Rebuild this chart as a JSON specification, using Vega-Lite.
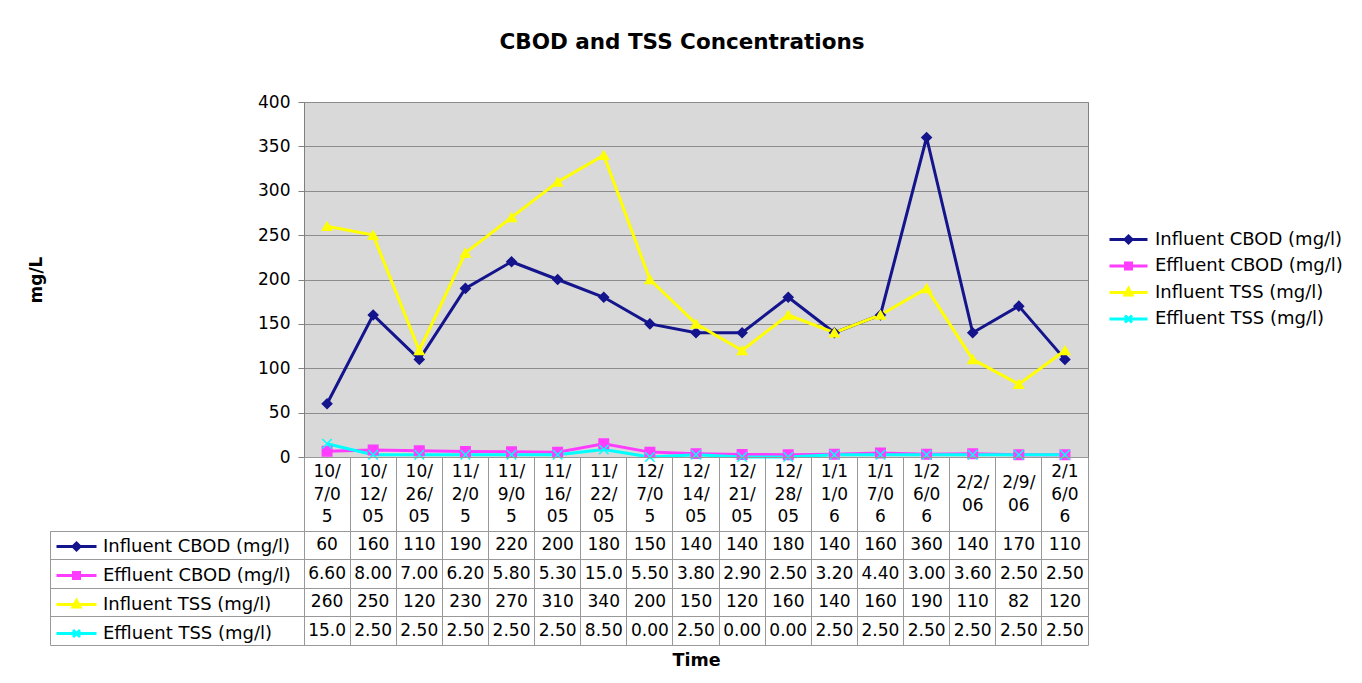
{
  "$schema": "https://vega.github.io/schema/vega-lite/v6.json",
  "background": "white",
  "padding": {"left": 27, "top": 31, "right": 5, "bottom": 5},
  "datasets": {
    "t": [
      {"Date": "10/7/05", "Label": "10/\n7/0\n5", "Influent CBOD (mg/l)": 60, "Effluent CBOD (mg/l)": 6.6, "Influent TSS (mg/l)": 260, "Effluent TSS (mg/l)": 15},
      {"Date": "10/12/05", "Label": "10/\n12/\n05", "Influent CBOD (mg/l)": 160, "Effluent CBOD (mg/l)": 8, "Influent TSS (mg/l)": 250, "Effluent TSS (mg/l)": 2.5},
      {"Date": "10/26/05", "Label": "10/\n26/\n05", "Influent CBOD (mg/l)": 110, "Effluent CBOD (mg/l)": 7, "Influent TSS (mg/l)": 120, "Effluent TSS (mg/l)": 2.5},
      {"Date": "11/2/05", "Label": "11/\n2/0\n5", "Influent CBOD (mg/l)": 190, "Effluent CBOD (mg/l)": 6.2, "Influent TSS (mg/l)": 230, "Effluent TSS (mg/l)": 2.5},
      {"Date": "11/9/05", "Label": "11/\n9/0\n5", "Influent CBOD (mg/l)": 220, "Effluent CBOD (mg/l)": 5.8, "Influent TSS (mg/l)": 270, "Effluent TSS (mg/l)": 2.5},
      {"Date": "11/16/05", "Label": "11/\n16/\n05", "Influent CBOD (mg/l)": 200, "Effluent CBOD (mg/l)": 5.3, "Influent TSS (mg/l)": 310, "Effluent TSS (mg/l)": 2.5},
      {"Date": "11/22/05", "Label": "11/\n22/\n05", "Influent CBOD (mg/l)": 180, "Effluent CBOD (mg/l)": 15, "Influent TSS (mg/l)": 340, "Effluent TSS (mg/l)": 8.5},
      {"Date": "12/7/05", "Label": "12/\n7/0\n5", "Influent CBOD (mg/l)": 150, "Effluent CBOD (mg/l)": 5.5, "Influent TSS (mg/l)": 200, "Effluent TSS (mg/l)": 0},
      {"Date": "12/14/05", "Label": "12/\n14/\n05", "Influent CBOD (mg/l)": 140, "Effluent CBOD (mg/l)": 3.8, "Influent TSS (mg/l)": 150, "Effluent TSS (mg/l)": 2.5},
      {"Date": "12/21/05", "Label": "12/\n21/\n05", "Influent CBOD (mg/l)": 140, "Effluent CBOD (mg/l)": 2.9, "Influent TSS (mg/l)": 120, "Effluent TSS (mg/l)": 0},
      {"Date": "12/28/05", "Label": "12/\n28/\n05", "Influent CBOD (mg/l)": 180, "Effluent CBOD (mg/l)": 2.5, "Influent TSS (mg/l)": 160, "Effluent TSS (mg/l)": 0},
      {"Date": "1/11/06", "Label": "1/1\n1/0\n6", "Influent CBOD (mg/l)": 140, "Effluent CBOD (mg/l)": 3.2, "Influent TSS (mg/l)": 140, "Effluent TSS (mg/l)": 2.5},
      {"Date": "1/17/06", "Label": "1/1\n7/0\n6", "Influent CBOD (mg/l)": 160, "Effluent CBOD (mg/l)": 4.4, "Influent TSS (mg/l)": 160, "Effluent TSS (mg/l)": 2.5},
      {"Date": "1/26/06", "Label": "1/2\n6/0\n6", "Influent CBOD (mg/l)": 360, "Effluent CBOD (mg/l)": 3, "Influent TSS (mg/l)": 190, "Effluent TSS (mg/l)": 2.5},
      {"Date": "2/2/06", "Label": "2/2/\n06", "Influent CBOD (mg/l)": 140, "Effluent CBOD (mg/l)": 3.6, "Influent TSS (mg/l)": 110, "Effluent TSS (mg/l)": 2.5},
      {"Date": "2/9/06", "Label": "2/9/\n06", "Influent CBOD (mg/l)": 170, "Effluent CBOD (mg/l)": 2.5, "Influent TSS (mg/l)": 82, "Effluent TSS (mg/l)": 2.5},
      {"Date": "2/16/06", "Label": "2/1\n6/0\n6", "Influent CBOD (mg/l)": 110, "Effluent CBOD (mg/l)": 2.5, "Influent TSS (mg/l)": 120, "Effluent TSS (mg/l)": 2.5}
    ]
  },
  "columns": 2,
  "spacing": 0,
  "bounds": "flush",
  "resolve": {"legend": {"color": "independent"}},
  "config": {
    "font": "DejaVu Sans",
    "view": {"stroke": "#999999"},
    "axis": {"labelColor": "black", "titleColor": "black"},
    "legend": {"labelColor": "black"},
    "title": {"color": "black"}
  },
  "concat": [
    {
      "width": 254, "height": 355,
      "view": {"stroke": null},
      "data": {"values": [{}]},
      "mark": {"type": "text", "text": ""}
    },
    {
      "width": 784, "height": 355,
      "view": {"fill": "#d9d9d9", "stroke": "#808080"},
      "title": {"text": "CBOD and TSS Concentrations", "fontSize": 21.5, "fontWeight": "bold", "anchor": "middle", "frame": "group", "dx": -14, "offset": 40},
      "data": {"name": "t"},
      "transform": [{"fold": ["Influent CBOD (mg/l)", "Effluent CBOD (mg/l)", "Influent TSS (mg/l)", "Effluent TSS (mg/l)"], "as": ["key", "value"]}],
      "encoding": {
        "x": {"field": "Date", "type": "nominal",
          "scale": {"type": "point", "padding": 0.5, "domain": ["10/7/05","10/12/05","10/26/05","11/2/05","11/9/05","11/16/05","11/22/05","12/7/05","12/14/05","12/21/05","12/28/05","1/11/06","1/17/06","1/26/06","2/2/06","2/9/06","2/16/06"]},
          "axis": {"labels": false, "ticks": false, "title": null, "grid": false, "domainColor": "#555555"}},
        "y": {"field": "value", "type": "quantitative",
          "scale": {"domain": [0, 400], "nice": false},
          "axis": {"title": "mg/L", "titleFontSize": 17, "titleFontWeight": "bold", "titlePadding": 212,
            "values": [0, 50, 100, 150, 200, 250, 300, 350, 400], "labelFontSize": 17, "labelPadding": 8,
            "tickSize": 6, "tickColor": "#808080", "domainColor": "#808080", "grid": true, "gridColor": "#8c8c8c", "gridOpacity": 1}}
      },
      "layer": [
        {
          "mark": {"type": "line", "strokeWidth": 3},
          "encoding": {
            "color": {"field": "key", "type": "nominal",
              "scale": {"domain": ["Influent CBOD (mg/l)", "Effluent CBOD (mg/l)", "Influent TSS (mg/l)", "Effluent TSS (mg/l)"], "range": ["#14148c", "#ff3cff", "#ffff00", "#00ffff"]},
              "legend": {"orient": "none", "legendX": 813, "legendY": 126, "title": null, "padding": 0,
                "labelFontSize": 18, "labelLimit": 400, "labelOffset": 15, "rowPadding": 5.5,
                "symbolSize": 400, "symbolStrokeWidth": 3,
                "encode": {"symbols": {"update": {
                  "shape": {"signal": "datum.value === 'Influent CBOD (mg/l)' ? 'M-1.9,0H1.9M0,-0.35L0.35,0L0,0.35L-0.35,0Z' : datum.value === 'Effluent CBOD (mg/l)' ? 'M-1.9,0H1.9M-0.3,-0.3H0.3V0.3H-0.3Z' : datum.value === 'Influent TSS (mg/l)' ? 'M-1.9,0H1.9M0,-0.4L0.35,0.25L-0.35,0.25Z' : 'M-1.9,0H1.9M-0.35,-0.35L0.35,0.35M-0.35,0.35L0.35,-0.35'"},
                  "fill": {"scale": "color", "field": "value"},
                  "stroke": {"scale": "color", "field": "value"},
                  "strokeWidth": {"value": 3}
                }}}
              }}
          }
        },
        {
          "mark": {"type": "point", "size": 90, "strokeWidth": 1.5, "opacity": 1},
          "encoding": {
            "fill": {"field": "key", "type": "nominal", "legend": null,
              "scale": {"domain": ["Influent CBOD (mg/l)", "Effluent CBOD (mg/l)", "Influent TSS (mg/l)", "Effluent TSS (mg/l)"], "range": ["#14148c", "#ff3cff", "#ffff00", "#00ffff"]}},
            "stroke": {"field": "key", "type": "nominal", "legend": null,
              "scale": {"domain": ["Influent CBOD (mg/l)", "Effluent CBOD (mg/l)", "Influent TSS (mg/l)", "Effluent TSS (mg/l)"], "range": ["#14148c", "#ff3cff", "#ffff00", "#00ffff"]}},
            "shape": {"field": "key", "type": "nominal", "legend": null,
              "scale": {"domain": ["Influent CBOD (mg/l)", "Effluent CBOD (mg/l)", "Influent TSS (mg/l)", "Effluent TSS (mg/l)"], "range": ["diamond", "square", "triangle-up", "M-1,-1L1,1M-1,1L1,-1"]}}
          }
        }
      ]
    },
    {
      "width": 254, "height": 74,
      "view": {"stroke": null},
      "data": {"values": [{}]},
      "mark": {"type": "text", "text": ""}
    },
    {
      "width": 784, "height": 74,
      "data": {"name": "t"},
      "encoding": {
        "x": {"field": "Date", "type": "nominal",
          "scale": {"type": "band", "paddingInner": 0, "paddingOuter": 0, "domain": ["10/7/05","10/12/05","10/26/05","11/2/05","11/9/05","11/16/05","11/22/05","12/7/05","12/14/05","12/21/05","12/28/05","1/11/06","1/17/06","1/26/06","2/2/06","2/9/06","2/16/06"]},
          "axis": {"labels": false, "ticks": false, "domain": false, "title": null, "grid": true, "bandPosition": 0, "gridColor": "#999999", "gridOpacity": 1}},
        "text": {"field": "Label", "type": "nominal"}
      },
      "layer": [
        {
          "transform": [{"filter": {"not": {"field": "Date", "oneOf": ["2/2/06", "2/9/06"]}}}],
          "mark": {"type": "text", "fontSize": 17, "lineBreak": "\n", "lineHeight": 22.5, "baseline": "middle", "dy": -22, "color": "black"}
        },
        {
          "transform": [{"filter": {"field": "Date", "oneOf": ["2/2/06", "2/9/06"]}}],
          "mark": {"type": "text", "fontSize": 17, "lineBreak": "\n", "lineHeight": 22.5, "baseline": "middle", "dy": -11, "color": "black"}
        }
      ]
    },
    {
      "width": 254, "height": 114,
      "data": {"name": "t"},
      "transform": [{"fold": ["Influent CBOD (mg/l)", "Effluent CBOD (mg/l)", "Influent TSS (mg/l)", "Effluent TSS (mg/l)"], "as": ["key", "value"]}, {"filter": "false"}],
      "mark": {"type": "line"},
      "encoding": {
        "y": {"field": "key", "type": "nominal",
          "scale": {"type": "band", "paddingInner": 0, "paddingOuter": 0, "domain": ["Influent CBOD (mg/l)", "Effluent CBOD (mg/l)", "Influent TSS (mg/l)", "Effluent TSS (mg/l)"]},
          "axis": {"labels": false, "ticks": false, "domain": false, "title": null, "grid": true, "bandPosition": 0, "gridColor": "#999999", "gridOpacity": 1}},
        "color": {"field": "key", "type": "nominal",
          "scale": {"domain": ["Influent CBOD (mg/l)", "Effluent CBOD (mg/l)", "Influent TSS (mg/l)", "Effluent TSS (mg/l)"], "range": ["#14148c", "#ff3cff", "#ffff00", "#00ffff"]},
          "legend": {"orient": "none", "legendX": 15, "legendY": 4, "title": null, "padding": 0,
            "labelFontSize": 18, "labelLimit": 400, "labelOffset": 15, "rowPadding": 8,
            "symbolSize": 400, "symbolStrokeWidth": 3,
            "encode": {"symbols": {"update": {
              "shape": {"signal": "datum.value === 'Influent CBOD (mg/l)' ? 'M-2,0H2M0,-0.35L0.35,0L0,0.35L-0.35,0Z' : datum.value === 'Effluent CBOD (mg/l)' ? 'M-2,0H2M-0.3,-0.3H0.3V0.3H-0.3Z' : datum.value === 'Influent TSS (mg/l)' ? 'M-2,0H2M0,-0.4L0.35,0.25L-0.35,0.25Z' : 'M-2,0H2M-0.35,-0.35L0.35,0.35M-0.35,0.35L0.35,-0.35'"},
              "fill": {"scale": "color", "field": "value"},
              "stroke": {"scale": "color", "field": "value"},
              "strokeWidth": {"value": 3}
            }}}
          }}
      }
    },
    {
      "width": 784, "height": 114,
      "data": {"name": "t"},
      "transform": [{"fold": ["Influent CBOD (mg/l)", "Effluent CBOD (mg/l)", "Influent TSS (mg/l)", "Effluent TSS (mg/l)"], "as": ["key", "value"]}],
      "encoding": {
        "x": {"field": "Date", "type": "nominal",
          "scale": {"type": "band", "paddingInner": 0, "paddingOuter": 0, "domain": ["10/7/05","10/12/05","10/26/05","11/2/05","11/9/05","11/16/05","11/22/05","12/7/05","12/14/05","12/21/05","12/28/05","1/11/06","1/17/06","1/26/06","2/2/06","2/9/06","2/16/06"]},
          "axis": {"labels": false, "ticks": false, "domain": false, "grid": true, "bandPosition": 0, "gridColor": "#999999", "gridOpacity": 1,
            "title": "Time", "titleFontSize": 17.5, "titleFontWeight": "bold", "titlePadding": 6}},
        "y": {"field": "key", "type": "nominal",
          "scale": {"type": "band", "paddingInner": 0, "paddingOuter": 0, "domain": ["Influent CBOD (mg/l)", "Effluent CBOD (mg/l)", "Influent TSS (mg/l)", "Effluent TSS (mg/l)"]},
          "axis": {"labels": false, "ticks": false, "domain": false, "title": null, "grid": true, "bandPosition": 0, "gridColor": "#999999", "gridOpacity": 1}}
      },
      "layer": [
        {
          "transform": [{"filter": {"field": "key", "oneOf": ["Influent CBOD (mg/l)", "Influent TSS (mg/l)"]}}],
          "mark": {"type": "text", "fontSize": 17, "color": "black"},
          "encoding": {"text": {"field": "value", "type": "quantitative", "format": "d"}}
        },
        {
          "transform": [{"filter": {"and": [{"field": "key", "oneOf": ["Effluent CBOD (mg/l)", "Effluent TSS (mg/l)"]}, {"field": "value", "lt": 10}]}}],
          "mark": {"type": "text", "fontSize": 17, "color": "black"},
          "encoding": {"text": {"field": "value", "type": "quantitative", "format": ".2f"}}
        },
        {
          "transform": [{"filter": {"and": [{"field": "key", "oneOf": ["Effluent CBOD (mg/l)", "Effluent TSS (mg/l)"]}, {"field": "value", "gte": 10}]}}],
          "mark": {"type": "text", "fontSize": 17, "color": "black"},
          "encoding": {"text": {"field": "value", "type": "quantitative", "format": ".1f"}}
        }
      ]
    }
  ]
}
